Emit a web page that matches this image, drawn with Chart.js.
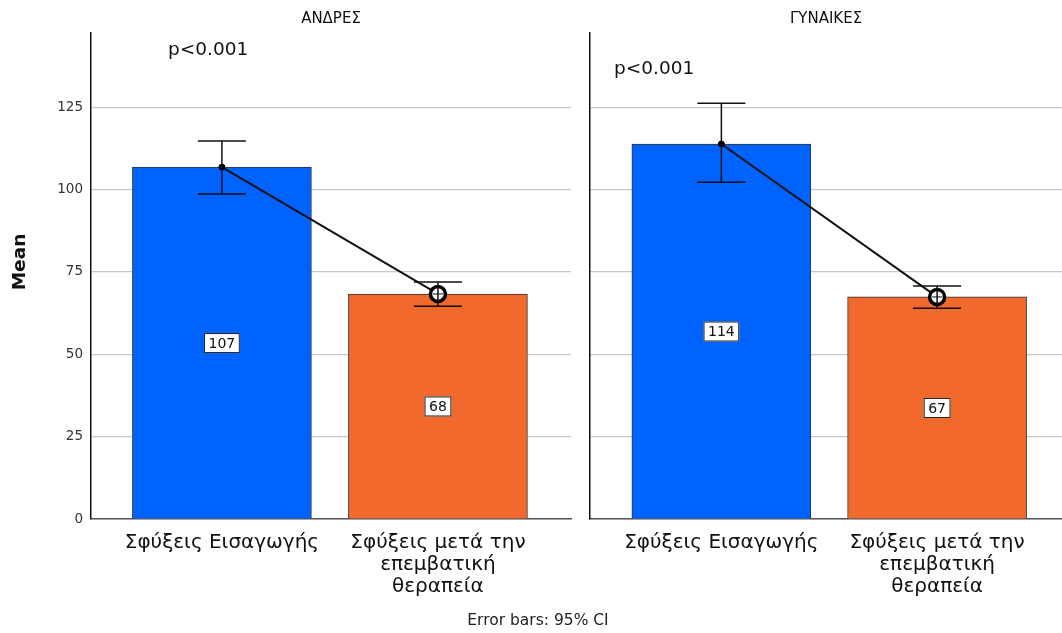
<!DOCTYPE html>
<html>
<head>
<meta charset="utf-8">
<script src="https://cdn.jsdelivr.net/npm/chart.js@4/dist/chart.umd.min.js"></script>
<style>
  body { margin: 0; background: #fff; }
  #wrap { position: relative; width: 1062px; height: 633px; font-family: "DejaVu Sans", sans-serif; }
  canvas { position: absolute; top: 0; }
  #note { position: absolute; left: 0; width: 1076px; top: 611px; text-align: center; font-size: 15.5px; color: #222; }
</style>
</head>
<body>
<div id="wrap">
  <canvas id="men" width="580" height="633" style="left:0"></canvas>
  <canvas id="women" width="482" height="633" style="left:580px"></canvas>
  <div id="note">Error bars: 95% CI</div>
</div>
<script>
var categories = [["Σφύξεις Εισαγωγής"], ["Σφύξεις μετά την", "επεμβατική", "θεραπεία"]];
var yTicks = [0, 25, 50, 75, 100, 125];

var menMean = [106.8, 68.3];
var menLow = [98.6, 64.6];
var menHigh = [114.7, 71.9];

var womenMean = [113.8, 67.4];
var womenLow = [102.2, 64.0];
var womenHigh = [126.2, 70.7];

var barColors = ["#0063ff", "#f2692e"];
var font = "DejaVu Sans";

// error bars, value boxes, panel title, p-value text and axis title
var panelPlugin = {
  id: 'panel',
  afterDatasetsDraw: function(chart, args, opts) {
    var ctx = chart.ctx, xs = chart.scales.x, ys = chart.scales.y, a = chart.chartArea;
    ctx.save();
    // error bars
    ctx.strokeStyle = "#111";
    ctx.lineWidth = 1.5;
    for (var i = 0; i < opts.low.length; i++) {
      var px = xs.getPixelForValue(i);
      var lo = ys.getPixelForValue(opts.low[i]);
      var hi = ys.getPixelForValue(opts.high[i]);
      ctx.beginPath();
      ctx.moveTo(px, lo); ctx.lineTo(px, hi);
      ctx.moveTo(px - 24, lo); ctx.lineTo(px + 24, lo);
      ctx.moveTo(px - 24, hi); ctx.lineTo(px + 24, hi);
      ctx.stroke();
    }
    // small cross inside the hollow marker
    var cx = xs.getPixelForValue(1), cy = ys.getPixelForValue(opts.mean[1]);
    ctx.lineWidth = 1;
    ctx.beginPath();
    ctx.moveTo(cx - 5, cy); ctx.lineTo(cx + 5, cy);
    ctx.stroke();
    // value boxes at half height
    ctx.font = "14px '" + font + "'";
    ctx.textAlign = "center";
    ctx.textBaseline = "middle";
    for (var j = 0; j < opts.mean.length; j++) {
      var bx = xs.getPixelForValue(j);
      var by = ys.getPixelForValue(opts.mean[j] / 2);
      var txt = String(Math.round(opts.mean[j]));
      var w = ctx.measureText(txt).width + 9;
      ctx.fillStyle = "#fff";
      ctx.fillRect(bx - w / 2, by - 10, w, 20);
      ctx.strokeStyle = "#222";
      ctx.lineWidth = 1;
      ctx.strokeRect(bx - w / 2 + 0.5, by - 9.5, w - 1, 19);
      ctx.fillStyle = "#111";
      ctx.fillText(txt, bx, by + 1);
    }
    // panel title
    ctx.font = "15px '" + font + "'";
    ctx.fillStyle = "#111";
    ctx.fillText(opts.title, (a.left + a.right) / 2, 19);
    // p value
    ctx.font = "18.5px '" + font + "'";
    ctx.textAlign = "left";
    ctx.fillText("p<0.001", a.left + opts.pX, opts.pY);
    // y axis title
    if (opts.yTitle) {
      ctx.translate(20, 262);
      ctx.rotate(-Math.PI / 2);
      ctx.textAlign = "center";
      ctx.font = "bold 18.5px '" + font + "'";
      ctx.fillText(opts.yTitle, 0, 0);
    }
    ctx.restore();
  }
};

function makeChart(id, mean, low, high, title, xMin, xMax, showY, pX, pY) {
  return new Chart(document.getElementById(id), {
    data: {
      datasets: [
        {
          type: 'line',
          data: mean.map(function(v, i) { return { x: i, y: v }; }),
          borderColor: "#111",
          borderWidth: 2,
          pointRadius: [3, 7.5],
          pointBorderWidth: [1, 3.5],
          pointBorderColor: "#000",
          pointBackgroundColor: ["#000", "#fff"],
          order: 0
        },
        {
          type: 'bar',
          data: mean.map(function(v, i) { return { x: i, y: v }; }),
          backgroundColor: barColors,
          borderColor: "#333",
          borderWidth: 1,
          barThickness: 179,
          order: 1
        }
      ]
    },
    options: {
      responsive: false,
      animation: false,
      layout: { autoPadding: false, padding: { top: 33, right: showY ? 9 : 0, bottom: 0, left: 0 } },
      plugins: {
        legend: { display: false },
        tooltip: { enabled: false },
        panel: { mean: mean, low: low, high: high, title: title, pX: pX, pY: pY, yTitle: showY ? "Mean" : null }
      },
      scales: {
        x: {
          type: 'linear',
          min: xMin,
          max: xMax,
          offset: false,
          grid: { display: false },
          border: { color: "#555", width: 1.5 },
          afterBuildTicks: function(s) { s.ticks = [{ value: 0 }, { value: 1 }]; },
          afterFit: function(s) { s.height = 114; },
          ticks: {
            autoSkip: false,
            maxRotation: 0,
            padding: 5,
            color: "#111",
            font: { family: font, size: 20, lineHeight: 1.1 },
            callback: function(v) { return categories[v]; }
          }
        },
        y: {
          min: 0,
          max: 147.5,
          afterBuildTicks: function(s) { s.ticks = yTicks.map(function(v) { return { value: v }; }); },
          afterFit: function(s) { s.width = showY ? 91 : 10; },
          grid: { color: "#c8c8c8", lineWidth: 1.2, drawTicks: false },
          border: { color: "#111", width: 1.5 },
          ticks: {
            display: showY,
            padding: 8,
            color: "#333",
            font: { family: font, size: 13.5 }
          }
        }
      }
    },
    plugins: [panelPlugin]
  });
}

makeChart("men", menMean, menLow, menHigh, "ΑΝΔΡΕΣ", -0.606, 1.616, true, 77, 50);
makeChart("women", womenMean, womenLow, womenHigh, "ΓΥΝΑΙΚΕΣ", -0.609, 1.579, false, 24, 69);
</script>
</body>
</html>
